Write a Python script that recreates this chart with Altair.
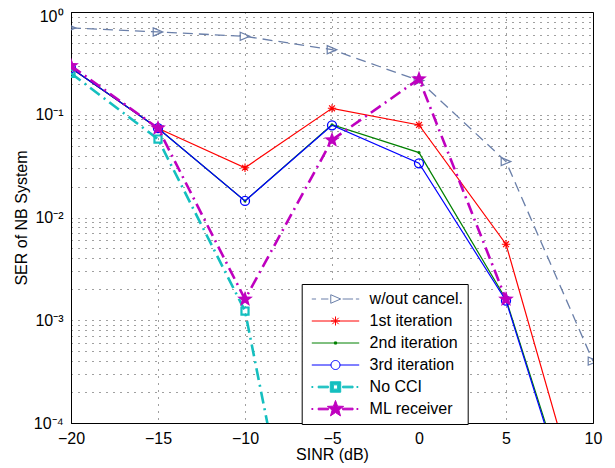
import math
import altair as alt
import pandas as pd

# ---------------- data ----------------
snr = [-20, -15, -10, -5, 0, 5, 10]
series_names = ["w/out cancel.", "1st iteration", "2nd iteration",
                "3rd iteration", "No CCI", "ML receiver"]
ser_wo = [0.70, 0.64, 0.58, 0.43, 0.215, 0.035, 0.0004]
ser_it1 = [0.285, 0.074, 0.0305, 0.1155, 0.0796, 0.0055, 6.0e-6]
ser_it2 = [0.285, 0.074, 0.0145, 0.080, 0.0428, 0.0016, 3.5e-6]
ser_it3 = [0.285, 0.074, 0.0145, 0.0789, 0.0337, 0.00155, 3.1e-6]
ser_nocci = [0.253, 0.058, 0.00123, 7.0e-8, None, None, None]
ser_ml = [0.30, 0.074, 0.0016, 0.0568, 0.223, 0.0016, None]
x_ticks = [-20, -15, -10, -5, 0, 5, 10]

all_series = [ser_wo, ser_it1, ser_it2, ser_it3, ser_nocci, ser_ml]
rows = []
for name, vals in zip(series_names, all_series):
    for x, y in zip(snr, vals):
        if y is not None:
            rows.append({"series": name, "snr": x, "ser": y})
df = pd.DataFrame(rows)

# ---------------- styles ----------------
colors = ["#6a7fa9", "#ff0000", "#008000", "#0000ff", "#14bfbf", "#bf00bf"]


def f(v):
    return f"{v:.3f}"


def star_path(R, r, cx=0.0):
    pts = []
    for i in range(10):
        a = -math.pi / 2 + i * math.pi / 5
        rr = R if i % 2 == 0 else r
        pts.append(f"{f(cx + rr * math.cos(a))},{f(rr * math.sin(a))}")
    return "M" + "L".join(pts) + "Z"


def circle_path(R):
    pts = []
    for i in range(24):
        a = 2 * math.pi * i / 24
        pts.append(f"{f(R * math.cos(a))},{f(R * math.sin(a))}")
    return "M" + "L".join(pts) + "Z"


def rect(x0, x1, h):
    return f"M{f(x0)},{f(-h)}H{f(x1)}V{f(h)}H{f(x0)}Z"


asterisk = "M0,-1V1M-1,0H1M-0.7,-0.7L0.7,0.7M-0.7,0.7L0.7,-0.7"
tri_right = "M-1,-0.85L1,0L-1,0.85Z"
star_marker = star_path(1.0, 0.42)

# per-series marker / line style
styles = {
    "w/out cancel.": dict(dash=[10, 6], width=1.3, shape=tri_right, size=92, filled=False, mw=1.2),
    "1st iteration": dict(dash=None, width=1.2, shape=asterisk, size=70, filled=False, mw=1.1),
    "2nd iteration": dict(dash=None, width=1.2, shape="circle", size=9, filled=True, mw=0.5),
    "3rd iteration": dict(dash=None, width=1.2, shape="circle", size=81, filled=False, mw=1.3),
    "No CCI": dict(dash=[12, 5, 2, 5], width=2.6, shape="square", size=50, filled=False, mw=2.2),
    "ML receiver": dict(dash=[12, 5, 2, 5], width=2.6, shape=star_marker, size=276, filled=True, mw=1),
}

# legend symbols: line sample + marker, in units of half the symbol width
leg_wo = ("M-1,0H-0.82M-0.61,0H-0.3M0.3,0H0.74M0.86,0H1"
          "M-0.2,-0.18L0.22,0L-0.2,0.18Z")
leg_it1 = "M-1,0H1" + "M0,-0.19V0.19M-0.19,0H0.19M-0.135,-0.135L0.135,0.135M-0.135,0.135L0.135,-0.135"
leg_it2 = "M-1,0H1" + "M-0.045,-0.045H0.045V0.045H-0.045Z"
leg_it3 = "M-1,0H-0.19M0.19,0H1" + circle_path(0.19)
leg_nocci = (rect(-1, -0.95, 0.02) + rect(-0.73, -0.3, 0.035)
             + "M-0.22,-0.22H0.22V0.22H-0.22Z" + "M-0.09,-0.09V0.09H0.09V-0.09Z"
             + rect(0.3, 0.74, 0.035) + rect(0.9, 0.95, 0.02))
leg_ml = (rect(-1, -0.95, 0.02) + rect(-0.73, -0.3, 0.035)
          + star_path(0.36, 0.15)
          + rect(0.3, 0.74, 0.035) + rect(0.9, 0.95, 0.02))
legend_paths = [leg_wo, leg_it1, leg_it2, leg_it3, leg_nocci, leg_ml]
legend_fills = ["transparent", "transparent", colors[2], "transparent", colors[4], colors[5]]

FONT = "Liberation Sans"

y_values = [round(k * 10 ** e, 12) for e in range(-4, 0) for k in range(1, 10)] + [1]
y_label_expr = ("datum.value == 1 ? '10⁰' : datum.value == 0.1 ? '10⁻¹' : "
                "datum.value == 0.01 ? '10⁻²' : datum.value == 0.001 ? '10⁻³' : "
                "datum.value == 0.0001 ? '10⁻⁴' : ''")

x_enc = alt.X("snr:Q", scale=alt.Scale(domain=[-20, 10], nice=False, zero=False),
              axis=alt.Axis(values=x_ticks, title="SINR (dB)", labelPadding=7,
                            labelFlush=False, titleY=31, titleBaseline="middle"))
y_enc = alt.Y("ser:Q", scale=alt.Scale(type="log", domain=[1e-4, 1], nice=False),
              axis=alt.Axis(values=y_values, labelExpr=y_label_expr, title="SER of NB System",
                            labelPadding=8, labelFlush=False, labelOverlap=False,
                            labelOffset={"condition": {"test": "datum.value == 1", "value": 4},
                                         "value": 0},
                            titleX=-50, titleBaseline="middle"))

leg = alt.Legend(orient="none", legendX=230.7, legendY=272, direction="vertical",
                 title=None, symbolSize=2250, symbolStrokeWidth=1, symbolOffset=5.3,
                 labelOffset=9.6, clipHeight=22, rowPadding=0, padding=4,
                 strokeColor="black", fillColor="white", cornerRadius=0,
                 labelFont=FONT, labelFontSize=16, labelColor="black",
                 symbolOpacity=1, labelLimit=300)

legend_layer = alt.Chart().mark_point(opacity=0, filled=True).encode(
    x=x_enc, y=y_enc,
    stroke=alt.Stroke("series:N", scale=alt.Scale(domain=series_names, range=colors), legend=leg),
    fill=alt.Fill("series:N", scale=alt.Scale(domain=series_names, range=legend_fills), legend=leg),
    shape=alt.Shape("series:N", scale=alt.Scale(domain=series_names, range=legend_paths), legend=leg),
)

layers = [legend_layer]
for name, col in zip(series_names, colors):
    st = styles[name]
    line_kw = dict(clip=True, color=col, strokeWidth=st["width"])
    if st["dash"]:
        line_kw["strokeDash"] = st["dash"]
    line = alt.Chart().mark_line(**line_kw).encode(x=x_enc, y=y_enc).transform_filter(
        alt.datum.series == name)
    pt = alt.Chart().mark_point(clip=True, shape=st["shape"], size=st["size"],
                                filled=st["filled"], color=col, strokeWidth=st["mw"],
                                opacity=1).encode(x=x_enc, y=y_enc).transform_filter(
        alt.datum.series == name)
    layers += [line, pt]

chart = alt.layer(*layers, data=df).properties(
    width=522, height=411,
    autosize=alt.AutoSizeParams(type="none"),
    padding={"left": 63, "top": 4, "right": 14, "bottom": 40},
).configure_view(
    stroke="black", strokeWidth=1
).configure_axis(
    labelFont=FONT, labelFontSize=16, labelColor="black",
    titleFont=FONT, titleFontSize=16, titleFontWeight="normal", titleColor="black",
    domainColor="black", domainWidth=1,
    grid=True, gridColor="black", gridDash=[1, 6], gridOpacity=0.75, gridWidth=1,
    ticks=False, tickSize=0,
)

chart.save("out.html", embed_options={"renderer": "svg", "actions": False})
